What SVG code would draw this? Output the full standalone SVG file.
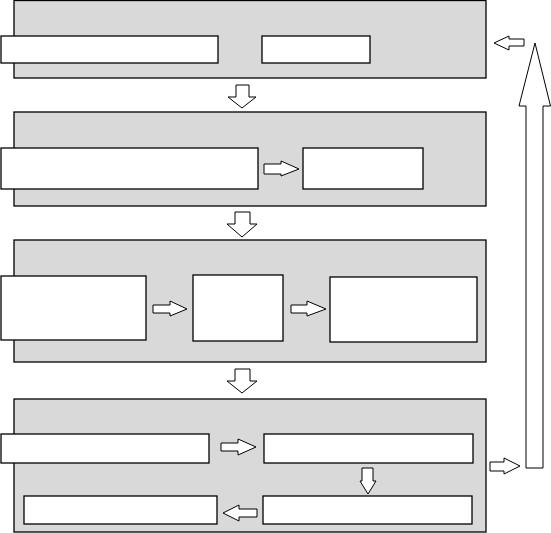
<svg xmlns="http://www.w3.org/2000/svg" width="551" height="533" viewBox="0 0 551 533">
<style>
.panel{fill:#d9d9d9;stroke:#000;stroke-width:1.3}
.box{fill:#fff;stroke:#000;stroke-width:1.3}
.arr{fill:#fff;stroke:#000;stroke-width:1}
</style>
<rect width="551" height="533" fill="#fff"/>
<g id="panel1">
<rect class="panel" x="14" y="0.5" width="472" height="77.5"/>
<rect id="p1a" class="box" x="1" y="36" width="217" height="27"/>
<rect id="p1b" class="box" x="262" y="36" width="108" height="27"/>
</g>
<g id="panel2">
<rect class="panel" x="14" y="112" width="472" height="94"/>
<rect id="p2a" class="box" x="1" y="148" width="257" height="41"/>
<rect id="p2b" class="box" x="303" y="148" width="120" height="41"/>
</g>
<g id="panel3">
<rect class="panel" x="14" y="240" width="472" height="122"/>
<rect id="p3a" class="box" x="1" y="276" width="145" height="64"/>
<rect id="p3b" class="box" x="193" y="275" width="90" height="66"/>
<rect id="p3c" class="box" x="330" y="277" width="147" height="65"/>
</g>
<g id="panel4">
<rect class="panel" x="14" y="399" width="472" height="133"/>
<rect id="p4a" class="box" x="1" y="434" width="208" height="29"/>
<rect id="p4b" class="box" x="264" y="434" width="209" height="29"/>
<rect id="p4c" class="box" x="263" y="496" width="209" height="28"/>
<rect id="p4d" class="box" x="24" y="496" width="193" height="28"/>
</g>
<g id="connectors">
<!-- down arrows between panels -->
<path class="arr" d="M236,85 H249 V97 H256 L242,108 L228,97 H236 Z"/>
<path class="arr" d="M235,212 H250 V224 H257 L242,237 L227,224 H235 Z"/>
<path class="arr" d="M235,369 H250 V381 H257 L242,393 L227,381 H235 Z"/>
<!-- horizontal arrows -->
<path class="arr" d="M264,164 H281 V161 L299,169 L281,176 V174 H264 Z"/>
<path class="arr" d="M153,305 H170 V301 L187,309 L170,316 V313 H153 Z"/>
<path class="arr" d="M291,305 H307 V301 L326,309 L307,316 V313 H291 Z"/>
<path class="arr" d="M221,443 H238 V439 L256,447 L238,455 V451 H221 Z"/>
<path class="arr" d="M257,509 H239 V505 L223,513 L239,521 V517 H257 Z"/>
<path class="arr" d="M362,468 H373 V481 H376 L368,494 L360,481 H362 Z"/>
<!-- side arrows -->
<path class="arr" d="M490,462 H504 V458 L520,466 L504,474 V471 H490 Z"/>
<path class="arr" d="M524,39 H509 V36 L494,43 L509,50 V46 H524 Z"/>
<path class="arr" d="M526,468 V106 H519 L535,43 L550.5,106 H543 V468 Z"/>
</g>
</svg>
